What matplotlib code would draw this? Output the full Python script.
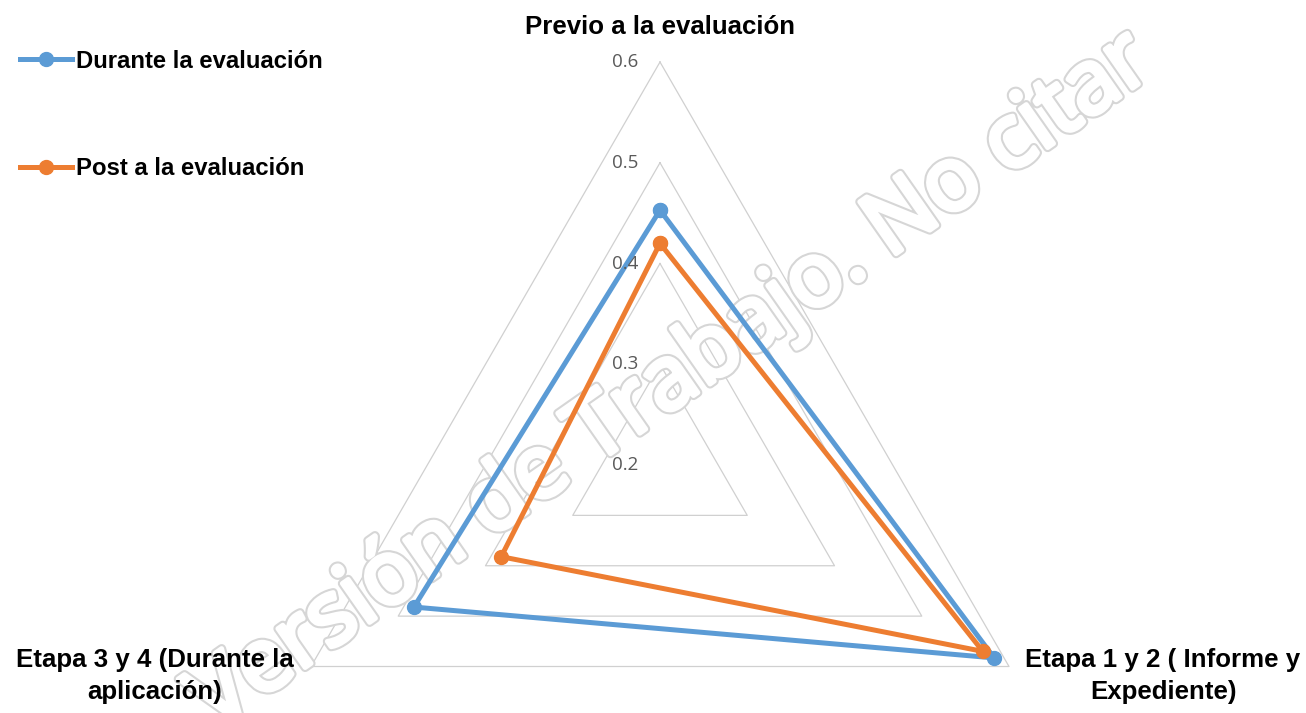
import numpy as np
import matplotlib
matplotlib.use('Agg')
import matplotlib.pyplot as plt
import matplotlib.patheffects as pe

# fuentes
plt.rcParams['font.family'] = ['Liberation Sans Narrow', 'Liberation Sans', 'DejaVu Sans']

# datos del gráfico radar
categorias = ['Previo a la evaluación',
              'Etapa 1 y 2 ( Informe y\nExpediente)',
              'Etapa 3 y 4 (Durante la\naplicación)']
durante = [0.453, 0.583, 0.482]
post = [0.420, 0.570, 0.382]
niveles = [0.3, 0.4, 0.5, 0.6]
etiquetas_eje = ['0.2', '0.3', '0.4', '0.5', '0.6']
valores_eje = [0.2, 0.3, 0.4, 0.5, 0.6]

azul = '#5B9BD5'
naranja = '#ED7D31'

fig = plt.figure(figsize=(13.06, 7.13), dpi=100)
W, H = 1306, 713
cx, cy, R = 660, 465, 403
ax = fig.add_axes([(cx - R) / W, (H - cy - R) / H, 2 * R / W, 2 * R / H],
                  projection='polar')
ax.set_theta_offset(np.pi / 2)
ax.set_theta_direction(-1)
ax.set_ylim(0.2, 0.6)
ax.grid(False)
ax.spines['polar'].set_visible(False)
ax.set_xticks([])
ax.set_yticks([])
ax.patch.set_alpha(0)

theta = np.linspace(0, 2 * np.pi, len(categorias), endpoint=False)
theta_c = np.append(theta, theta[0])

# rejilla triangular
for n in niveles:
    ax.plot(theta_c, [n] * len(theta_c), color='#d0d0d0', lw=0.9, zorder=1,
            clip_on=False)

# etiquetas del eje radial
for v, t in zip(valores_eje, etiquetas_eje):
    ax.annotate(t, xy=(0, v), xytext=(-15.5, 0), textcoords='offset points',
                ha='right', va='center', fontsize=13.5, color='#595959',
                family=['Open Sans', 'DejaVu Sans'], annotation_clip=False,
                zorder=5)

# series
l1, = ax.plot(theta_c, durante + durante[:1], color=azul, lw=3.6, marker='o',
              markersize=10, zorder=3, clip_on=False,
              label='Durante la evaluación')
l2, = ax.plot(theta_c, post + post[:1], color=naranja, lw=3.6, marker='o',
              markersize=10, zorder=4, clip_on=False,
              label='Post a la evaluación')

# marca de agua (entre la rejilla y las series)
ax.text(672 / W, 1 - 382 / H, 'Versión de Trabajo. No citar',
        transform=fig.transFigure, ha='center', va='center', rotation=35,
        fontsize=64, family=['Open Sans', 'DejaVu Sans'], color='white',
        zorder=2, clip_on=False,
        path_effects=[pe.SimplePatchShadow(offset=(2, -2),
                                           shadow_rgbFace='#777777', alpha=0.3),
                      pe.Stroke(linewidth=6.5, foreground='#d6d6d6'),
                      pe.Stroke(linewidth=3.5, foreground='white'),
                      pe.Normal()])

# nombres de categorías
fs = 18.6
fig.text(cx / W, 1 - 27 / H, categorias[0], ha='center', va='center',
         fontsize=fs, fontweight='bold')
fig.text(1163 / W, 1 - 676 / H, categorias[1], ha='center', va='center',
         fontsize=fs, fontweight='bold', linespacing=1.38)
fig.text(155 / W, 1 - 676 / H, categorias[2], ha='center', va='center',
         fontsize=fs, fontweight='bold', linespacing=1.38)

# leyenda
leg = fig.legend(handles=[l1, l2], loc='upper left',
                 bbox_to_anchor=(10 / W, 1 - 40 / H), frameon=False,
                 prop={'size': 17.2, 'weight': 'bold'}, handlelength=2.2,
                 handletextpad=0.15, labelspacing=3.55, borderaxespad=0)

fig.savefig('out.png', dpi=100)
